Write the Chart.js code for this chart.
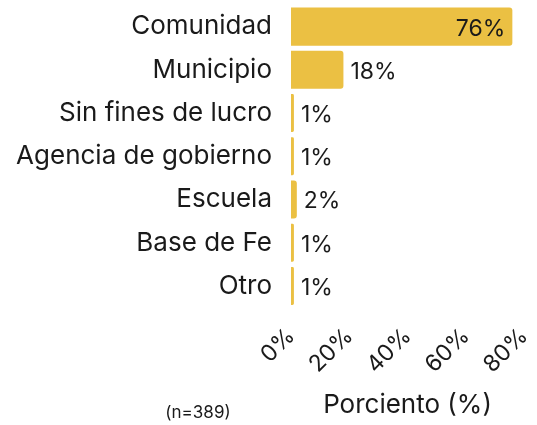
<!DOCTYPE html>
<html>
<head>
<meta charset="utf-8">
<script src="https://cdn.jsdelivr.net/npm/chart.js@4"></script>
<style>
  html, body { margin: 0; padding: 0; background: #fff; }
  #wrap { width: 537px; height: 425px; position: relative; }
</style>
</head>
<body>
<div id="wrap"><canvas id="chart"></canvas></div>
<script>
const categories = ['Comunidad', 'Municipio', 'Sin fines de lucro', 'Agencia de gobierno', 'Escuela', 'Base de Fe', 'Otro'];
const percents = [76, 18, 1, 1, 2, 1, 1];
const xTicks = [0, 20, 40, 60, 80];
const sampleNote = '(n=389)';

const FONT = 'Inter, "Open Sans", sans-serif';
const INK = '#1a1a1a';

// value labels at the bar ends, inside for the long bar
const barLabels = {
    id: 'barLabels',
    afterDatasetsDraw(chart) {
        const { ctx } = chart;
        const meta = chart.getDatasetMeta(0);
        ctx.save();
        ctx.font = '23px ' + FONT;
        ctx.fillStyle = INK;
        ctx.textBaseline = 'middle';
        meta.data.forEach((bar, i) => {
            const v = percents[i];
            const txt = v + '%';
            if (v > 50) {
                ctx.textAlign = 'right';
                ctx.fillText(txt, bar.x - 7, bar.y + 2);
            } else {
                ctx.textAlign = 'left';
                ctx.fillText(txt, bar.x + 7, bar.y + 2);
            }
        });
        ctx.restore();
    }
};

const noteText = {
    id: 'noteText',
    afterDraw(chart) {
        const { ctx } = chart;
        ctx.save();
        ctx.font = '17px ' + FONT;
        ctx.fillStyle = INK;
        ctx.textAlign = 'center';
        ctx.textBaseline = 'middle';
        ctx.fillText(sampleNote, 198, 413);
        ctx.restore();
    }
};

new Chart(document.getElementById('chart'), {
    type: 'bar',
    data: {
        labels: categories,
        datasets: [{
            data: percents,
            backgroundColor: '#ebc043',
            borderRadius: 3,
            borderSkipped: 'start',
            categoryPercentage: 0.88,
            barPercentage: 1
        }]
    },
    options: {
        indexAxis: 'y',
        responsive: true,
        maintainAspectRatio: false,
        animation: false,
        layout: { padding: { top: 5, right: 0, left: 6, bottom: 4 } },
        plugins: {
            legend: { display: false },
            tooltip: { enabled: false }
        },
        scales: {
            x: {
                min: 0,
                max: 80,
                afterBuildTicks(axis) {
                    axis.ticks = xTicks.map(v => ({ value: v }));
                },
                afterFit(axis) {
                    axis.paddingRight = 13;
                },
                grid: { display: false },
                border: { display: false },
                ticks: {
                    minRotation: 45,
                    maxRotation: 45,
                    color: INK,
                    font: { family: FONT, size: 23 },
                    padding: 7,
                    callback: v => v + '%'
                },
                title: {
                    display: true,
                    text: 'Porciento (%)',
                    color: INK,
                    font: { family: FONT, size: 26 },
                    padding: { top: 4, bottom: 0 }
                }
            },
            y: {
                grid: { display: false },
                border: { display: false },
                afterFit(axis) {
                    axis.width = 285;
                    axis.paddingTop = 0;
                    axis.paddingBottom = 0;
                },
                ticks: {
                    color: INK,
                    font: { family: FONT, size: 26 },
                    padding: 11
                }
            }
        }
    },
    plugins: [barLabels, noteText]
});
</script>
</body>
</html>
